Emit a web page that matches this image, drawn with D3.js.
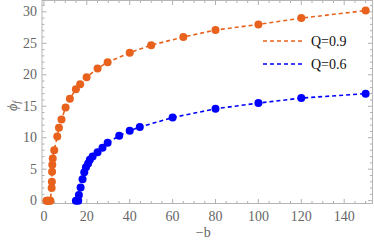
<!DOCTYPE html>
<html>
<head>
<meta charset="utf-8">
<script src="https://cdn.jsdelivr.net/npm/d3@7"></script>
<style>
  body { margin: 0; background: #fff; }
  svg { display: block; }
  text { font-family: "Liberation Serif", "DejaVu Serif", serif; }
</style>
</head>
<body>
<div id="chart-area"></div>
<script>
// Q = 0.9 (orange)
const bQ09   = [1.2, 1.6, 2.0, 2.5, 3.0, 3.6, 3.7, 3.8, 3.9, 4.1, 4.8, 6.2, 7.0, 8.2, 10.1, 12.1, 14.9, 16.9, 19.9, 25, 29.7, 40, 50, 65, 80, 100, 120, 150]
const phiQ09 = [0, 0, 0, 0, 0, 2.0, 3.0, 4.6, 5.7, 6.7, 8.0, 10.2, 11.6, 12.9, 14.8, 16.2, 17.7, 18.5, 19.6, 21.0, 22.0, 23.5, 24.7, 26.0, 27.1, 28.0, 29.0, 30.2]
// Q = 0.6 (blue)
const bQ06   = [14.9, 16.0, 16.3, 17.1, 18.0, 18.8, 19.6, 20.6, 21.4, 22.7, 25, 27.3, 29.7, 35.1, 40, 44.7, 60, 80, 100, 120, 150]
const phiQ06 = [0, 0, 0.9, 2.1, 3.4, 4.5, 5.3, 5.9, 6.5, 7.0, 7.7, 8.4, 9.2, 10.3, 11.1, 11.7, 13.2, 14.6, 15.5, 16.3, 17.0]

const xTicks = [0, 20, 40, 60, 80, 100, 120, 140]
const yTicks = [0, 5, 10, 15, 20, 25, 30]
const seriesNames = ["Q=0.9", "Q=0.6"]
const colors = ["#e8621d", "#0000ff"]

const MARGIN = { LEFT: 42, RIGHT: 1.5, TOP: 0.5, BOTTOM: 44.5 }
const W = 374, H = 248
const WIDTH = W - MARGIN.LEFT - MARGIN.RIGHT
const HEIGHT = H - MARGIN.TOP - MARGIN.BOTTOM

const svg = d3.select("#chart-area").append("svg")
    .attr("width", W)
    .attr("height", H)

const g = svg.append("g")
    .attr("transform", `translate(${MARGIN.LEFT}, ${MARGIN.TOP})`)

const x = d3.scaleLinear().domain([-0.9, 153.2]).range([0, WIDTH])
const y = d3.scaleLinear().domain([-0.45, 31.8]).range([HEIGHT, 0])

const tickColor = "#9a9a9a"
const labelColor = "#666"

// minor / major ticks, inward on all four sides
const xMinor = d3.range(0, 151, 5)
const yMinor = d3.range(0, 32, 1)
const ticks = g.append("g").attr("stroke", tickColor).attr("stroke-width", 0.8)
xMinor.forEach(v => {
    const len = v % 20 === 0 ? 4.5 : 2.5
    ticks.append("line").attr("x1", x(v)).attr("x2", x(v)).attr("y1", HEIGHT).attr("y2", HEIGHT - len)
    ticks.append("line").attr("x1", x(v)).attr("x2", x(v)).attr("y1", 0).attr("y2", len)
})
yMinor.forEach(v => {
    const len = v % 5 === 0 ? 4.5 : 2.5
    ticks.append("line").attr("y1", y(v)).attr("y2", y(v)).attr("x1", 0).attr("x2", len)
    ticks.append("line").attr("y1", y(v)).attr("y2", y(v)).attr("x1", WIDTH).attr("x2", WIDTH - len)
})

// frame
g.append("rect")
    .attr("width", WIDTH).attr("height", HEIGHT)
    .attr("fill", "none").attr("stroke", "#b5b5b5").attr("stroke-width", 1)

// tick labels
g.selectAll(".xlab").data(xTicks).enter().append("text")
    .attr("x", d => x(d)).attr("y", HEIGHT + 17)
    .attr("text-anchor", "middle")
    .attr("font-size", "14px").attr("fill", labelColor)
    .text(d => d)

g.selectAll(".ylab").data(yTicks).enter().append("text")
    .attr("x", -5).attr("y", d => y(d) + 4.5)
    .attr("text-anchor", "end")
    .attr("font-size", "14px").attr("fill", labelColor)
    .text(d => d)

// axis labels
g.append("text")
    .attr("x", WIDTH / 2 - 4).attr("y", HEIGHT + 33)
    .attr("text-anchor", "middle")
    .attr("font-size", "14px").attr("fill", labelColor)
    .text("\u2212b")

const yl = svg.append("text")
    .attr("transform", "translate(17, 106) rotate(-90)")
    .attr("text-anchor", "middle")
    .attr("font-size", "14px").attr("fill", labelColor)
    .attr("font-style", "italic")
yl.append("tspan").text("\u03d5")
yl.append("tspan").attr("font-size", "10px").attr("dy", 3).text("f")

// series
const series = [
    { b: bQ09, phi: phiQ09 },
    { b: bQ06, phi: phiQ06 }
]
const line = d3.line().x(d => x(d[0])).y(d => y(d[1]))

series.forEach((s, i) => {
    const pts = s.b.map((b, k) => [b, s.phi[k]])
    g.append("path")
        .datum(pts)
        .attr("d", line)
        .attr("fill", "none")
        .attr("stroke", colors[i])
        .attr("stroke-width", 1.6)
        .attr("stroke-dasharray", "4,3")
    g.selectAll(".pt" + i).data(pts).enter().append("circle")
        .attr("cx", d => x(d[0]))
        .attr("cy", d => y(d[1]))
        .attr("r", 4)
        .attr("fill", colors[i])
})

// legend
const legend = svg.append("g")
seriesNames.forEach((name, i) => {
    const ly = 41 + i * 23
    legend.append("line")
        .attr("x1", 263).attr("x2", 302).attr("y1", ly).attr("y2", ly)
        .attr("stroke", colors[i]).attr("stroke-width", 1.6)
        .attr("stroke-dasharray", "4,3")
    legend.append("text")
        .attr("x", 311).attr("y", ly + 5)
        .attr("font-size", "14px").attr("fill", "#111")
        .text(name)
})
</script>
</body>
</html>
